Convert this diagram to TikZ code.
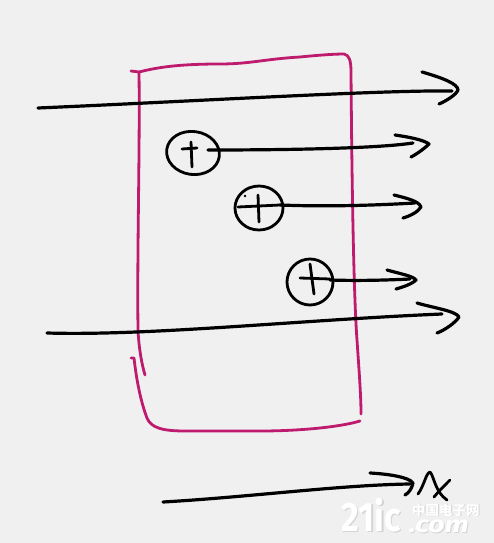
\documentclass[tikz,border=0pt]{standalone}
\usepackage{fontspec}
\newfontfamily\cjk{Noto Sans CJK SC}
\newfontfamily\wmfont{Fira Sans}
\usetikzlibrary{shapes.geometric,calc}
\definecolor{bg}{HTML}{F0F0F0}
\definecolor{mag}{HTML}{BE1A6E}
\definecolor{wmshade}{HTML}{D4D4D4}
\begin{document}
\begin{tikzpicture}[x=1pt,y=-1pt,
  ink/.style={line width=3.2pt,line cap=round,line join=round,black},
  thin ink/.style={line width=2.8pt,line cap=round,line join=round,black},
  pen/.style={line width=2.8pt,line cap=round,line join=round,mag},
  sumnode/.style={ellipse,draw=black,line width=2.8pt,inner sep=0pt},
  wm/.style={inner sep=0pt,anchor=base west}]
\fill[bg] (0,0) rectangle (494,543);
\useasboundingbox (0,0) rectangle (494,543);

% ---------- magenta box ----------
\draw[pen] (131,71) -- (139,72)
  .. controls (155,68) and (175,64) .. (220,64)
  .. controls (250,64) and (265,59) .. (300,57)
  .. controls (320,55) and (335,54) .. (344,54)
  .. controls (349,55) and (351,60) .. (351,72)
  .. controls (352,200) and (354,300) .. (357,340)
  .. controls (359,370) and (361,395) .. (361,414);
\draw[pen] (139,72) .. controls (140,150) and (137,250) .. (138,330)
  .. controls (139,350) and (142,365) .. (145,375);
\draw[pen] (131,358) -- (134,358)
  .. controls (137,385) and (142,405) .. (147,418)
  .. controls (151,428) and (163,431) .. (185,431)
  -- (260,431) .. controls (300,431) and (340,427) .. (360,421);

% ---------- summing nodes ----------
\node[sumnode,minimum width=53pt,minimum height=43pt,rotate=-8] (p1) at (193,153) {};
\node[sumnode,minimum width=48pt,minimum height=44pt] (p2) at (259,208) {};
\node[sumnode,minimum width=46pt,minimum height=46pt] (p3) at (310,282) {};

% plus signs
\draw[thin ink] ($(p1.center)+(-2,-11)$) -- ($(p1.center)+(-1,14)$);
\draw[thin ink] ($(p1.center)+(-11,-4)$) -- ($(p1.center)+(4,-5)$);
\draw[thin ink] ($(p2.center)+(-21,-1)$) -- ($(p2.center)+(21,-3)$);
\draw[thin ink] ($(p2.center)+(-1,-13)$) -- ($(p2.center)+(0,14)$);
\fill[black] ($(p2.center)+(-14,-12)$) circle (1.4pt);
\draw[thin ink] ($(p3.center)+(-10,-4)$) -- ($(p3.center)+(20,-3)$);
\draw[thin ink] ($(p3.center)+(0,-18)$) -- ($(p3.center)+(4,12)$);

% ---------- connectors ----------
\coordinate (a0s) at (38,108);   \coordinate (a0e) at (452,91);   \coordinate (t0) at (458,90);
\coordinate (a1s) at (208,150);  \coordinate (a1e) at (413,143);  \coordinate (t1) at (429,144);
\coordinate (a2s) at (280,205);  \coordinate (a2e) at (415,203);  \coordinate (t2) at (421,207);
\coordinate (a3s) at (330,280);  \coordinate (a3e) at (410,279);  \coordinate (t3) at (416,280);
\coordinate (a4s) at (47,333);   \coordinate (a4e) at (442,314);  \coordinate (t4) at (459,317);
\coordinate (a5s) at (163,502);  \coordinate (a5e) at (410,484);  \coordinate (t5) at (413,483);

\draw[ink] (a0s) .. controls (200,101) and (380,90) .. (a0e);
\draw[ink] ($(t0)+(-36,-18)$) .. controls ($(t0)+(-15,-12)$) and ($(t0)+(0,-6)$) .. (t0)
           .. controls ($(t0)+(-2,5)$) and ($(t0)+(-12,11)$) .. ($(t0)+(-19,14)$);

\draw[ink] (a1s) .. controls (300,150) and (380,148) .. (a1e);
\draw[ink] ($(t1)+(-34,-9)$) .. controls ($(t1)+(-20,-7)$) and ($(t1)+(-5,-4)$) .. (t1)
           .. controls ($(t1)+(-4,4)$) and ($(t1)+(-12,10)$) .. ($(t1)+(-18,13)$);

\draw[ink] (a2s) .. controls (330,207) and (380,205) .. (a2e);
\draw[ink] ($(t2)+(-27,-12)$) .. controls ($(t2)+(-15,-9)$) and ($(t2)+(-2,-6)$) .. (t2)
           .. controls ($(t2)+(-3,5)$) and ($(t2)+(-11,9)$) .. ($(t2)+(-18,11)$);

\draw[ink] (a3s) .. controls (360,281) and (390,280) .. (a3e);
\draw[ink] ($(t3)+(-29,-10)$) .. controls ($(t3)+(-15,-6)$) and ($(t3)+(-3,-4)$) .. (t3)
           .. controls ($(t3)+(-4,4)$) and ($(t3)+(-13,7)$) .. ($(t3)+(-20,9)$);

\draw[ink] (a4s) .. controls (150,336) and (300,320) .. (a4e);
\draw[ink] ($(t4)+(-42,-14)$) .. controls ($(t4)+(-25,-9)$) and ($(t4)+(-3,-6)$) .. (t4)
           .. controls ($(t4)+(-4,6)$) and ($(t4)+(-14,13)$) .. ($(t4)+(-22,16)$);

\draw[ink] (a5s) .. controls (250,497) and (340,485) .. (a5e);
\draw[ink] ($(t5)+(-43,-10)$) .. controls ($(t5)+(-25,-9)$) and ($(t5)+(-4,-6)$) .. (t5)
           .. controls ($(t5)+(-1,5)$) and ($(t5)+(-4,10)$) .. ($(t5)+(-8,12)$);

% ---------- hand-written x ----------
\coordinate (xs) at (418,494);
\draw[thin ink] (xs) .. controls (424,486) and (426,473) .. (430,472)
  .. controls (434,476) and (435,492) .. (447,500);
\draw[thin ink] (450,480) .. controls (444,486) and (438,492) .. (434,497);

% ---------- watermark ----------
\node[wm,text=wmshade,xscale=0.84] (wm21s) at (342.8,532.2) {\wmfont\bfseries\fontsize{41}{41}\selectfont 21ic};
\node[wm,text=white,xscale=0.84] (wm21) at (341.5,531) {\wmfont\bfseries\fontsize{41}{41}\selectfont 21ic};
\node[wm,text=wmshade] (wmcns) at (413,515.8) {\cjk\bfseries\fontsize{13.5}{13.5}\selectfont 中国电子网};
\node[wm,text=white] (wmcn) at (412,515) {\cjk\bfseries\fontsize{13.5}{13.5}\selectfont 中国电子网};
\node[wm,text=wmshade,xscale=1.25] (wmcoms) at (409.5,533.2) {\wmfont\bfseries\itshape\fontsize{23}{23}\selectfont .com};
\node[wm,text=white,xscale=1.25] (wmcom) at (408.5,532.5) {\wmfont\bfseries\itshape\fontsize{23}{23}\selectfont .com};
\end{tikzpicture}
\end{document}
